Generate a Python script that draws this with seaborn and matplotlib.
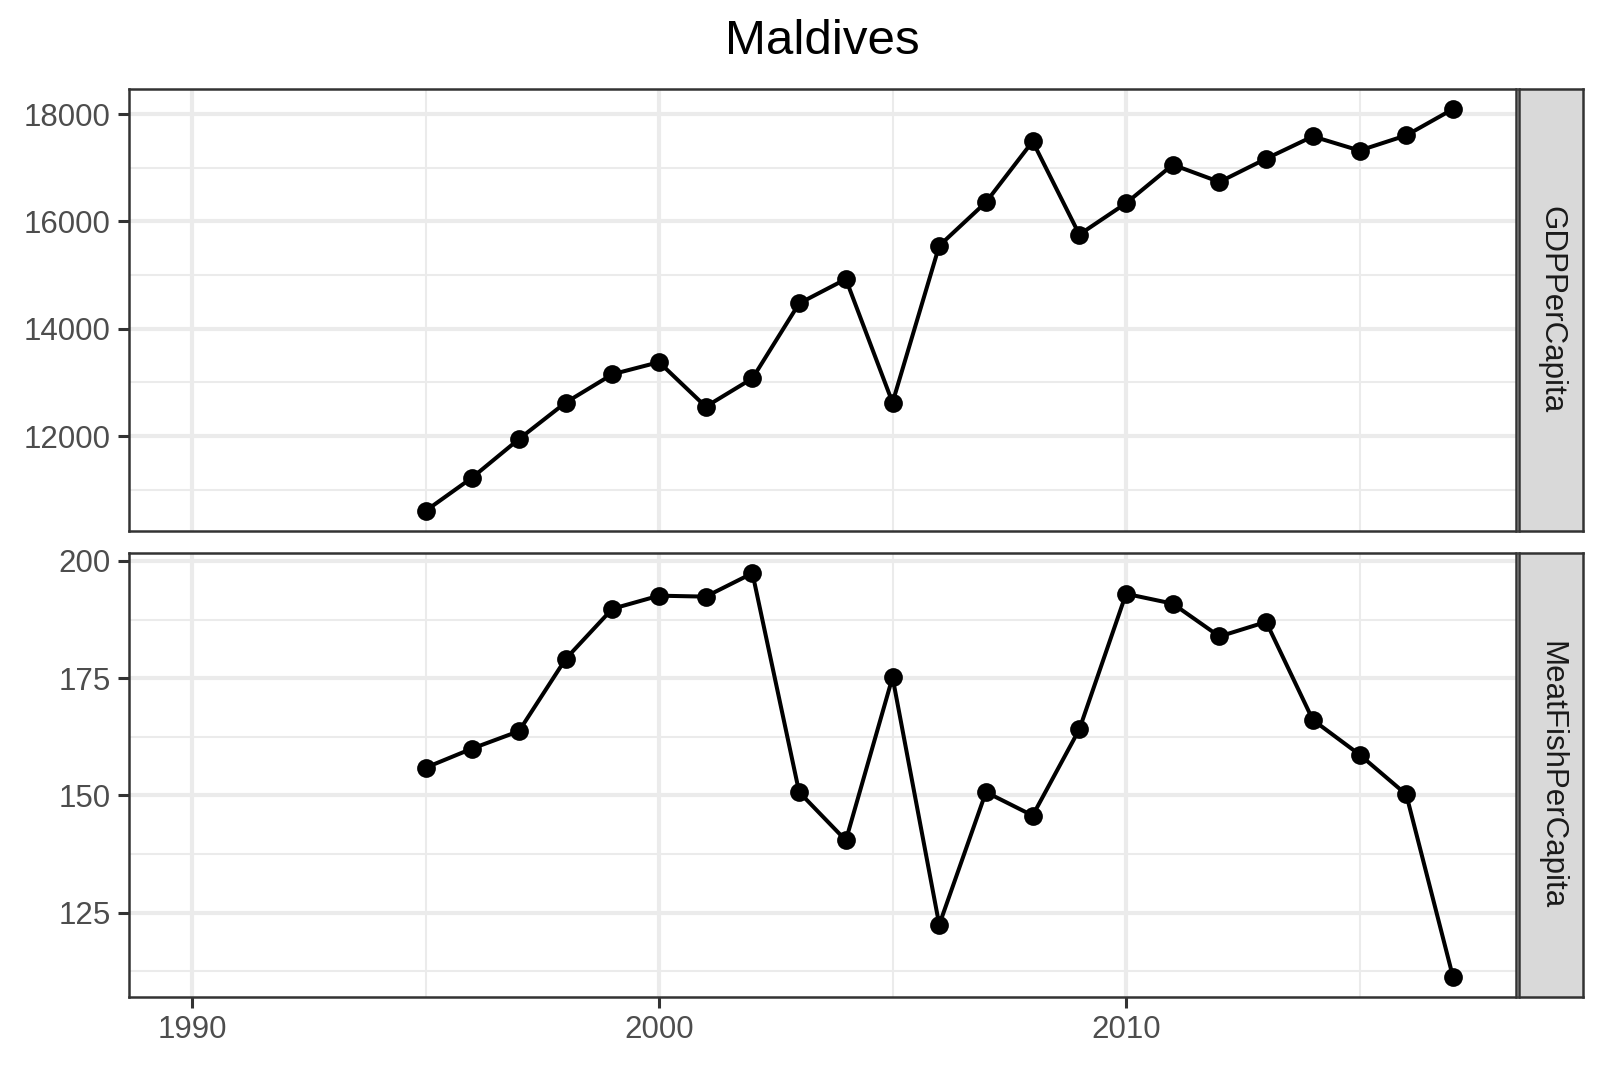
import numpy as np
import pandas as pd
import matplotlib
matplotlib.use("Agg")
import matplotlib.pyplot as plt
import seaborn as sns

years = list(range(1995, 2018))
gdp_per_capita = [10604, 11226, 11943, 12623, 13151, 13377, 12547, 13075, 14472, 14925,
                  12623, 15547, 16358, 17491, 15755, 16340, 17057, 16736, 17170, 17585,
                  17321, 17604, 18094]
meatfish_per_capita = [155.9, 160.0, 163.7, 179.1, 189.8, 192.6, 192.4, 197.4, 150.7, 140.4,
                       175.2, 122.4, 150.7, 145.7, 164.1, 193.0, 190.9, 183.9, 187.0, 166.1,
                       158.7, 150.2, 111.3]
panel_names = ["GDPPerCapita", "MeatFishPerCapita"]
title = "Maldives"
x_ticks = [1990, 2000, 2010]
x_minor = [1995, 2005, 2015]
y_ticks = {"GDPPerCapita": [12000, 14000, 16000, 18000],
           "MeatFishPerCapita": [125, 150, 175, 200]}
y_minor = {"GDPPerCapita": [11000, 13000, 15000, 17000],
           "MeatFishPerCapita": [112.5, 137.5, 162.5, 187.5]}

df = pd.DataFrame({
    "Year": years * 2,
    "variable": ["GDPPerCapita"] * len(years) + ["MeatFishPerCapita"] * len(years),
    "value": gdp_per_capita + meatfish_per_capita,
})

sns.set_theme(style="white")
plt.rcParams['font.family'] = ['Liberation Sans', 'DejaVu Sans']

W, H = 1600, 1067
fig = plt.figure(figsize=(16, 10.67), dpi=100)
fig.patch.set_facecolor("white")

x0, x1 = 129, 1516
panels = [(89, 531), (553, 997)]
sx0, sx1 = 1519, 1583

for i, (name, (top, bot)) in enumerate(zip(panel_names, panels)):
    ax = fig.add_axes([x0 / W, 1 - bot / H, (x1 - x0) / W, (bot - top) / H])
    sub = df[df["variable"] == name]
    sns.lineplot(data=sub, x="Year", y="value", ax=ax, color="black", linewidth=2.9,
                 marker="o", markersize=13.5, markeredgewidth=0, zorder=3)
    ax.set_xlim(1990 - 1.35, 2017 + 1.35)
    vmin, vmax = sub["value"].min(), sub["value"].max()
    pad = 0.05 * (vmax - vmin)
    ax.set_ylim(vmin - pad, vmax + pad)
    ax.set_xticks(x_ticks)
    ax.set_xticks(x_minor, minor=True)
    ax.set_yticks(y_ticks[name])
    ax.set_yticks(y_minor[name], minor=True)
    ax.grid(True, which="major", color="#EBEBEB", linewidth=3.0, zorder=0)
    ax.grid(True, which="minor", color="#EBEBEB", linewidth=1.5, zorder=0)
    ax.set_axisbelow(True)
    ax.set_facecolor("white")
    for s in ax.spines.values():
        s.set_visible(True)
        s.set_color("#333333")
        s.set_linewidth(1.8)
    ax.set_xlabel("")
    ax.set_ylabel("")
    ax.tick_params(axis="both", which="major", length=8, width=2.2, color="#333333",
                   labelsize=22.5, labelcolor="#4D4D4D", pad=5)
    ax.tick_params(axis="both", which="minor", length=0)
    ax.tick_params(axis="x", bottom=(i == 1), labelbottom=(i == 1))
    ax.tick_params(axis="y", left=True)
    ax.set_yticklabels([str(v) for v in y_ticks[name]])

    sax = fig.add_axes([sx0 / W, 1 - bot / H, (sx1 - sx0) / W, (bot - top) / H])
    sax.set_facecolor("#D9D9D9")
    sax.set_xticks([])
    sax.set_yticks([])
    for s in sax.spines.values():
        s.set_visible(True)
        s.set_color("#333333")
        s.set_linewidth(1.8)
    sax.text(0.5, 0.5, name, rotation=-90, ha="center", va="center",
             fontsize=22.5, color="#1A1A1A", transform=sax.transAxes)

fig.text((x0 + x1) / 2 / W, 1 - 42 / H, title, ha="center", va="center",
         fontsize=35.5, color="black")

fig.savefig("out.png", dpi=100, facecolor="white")
